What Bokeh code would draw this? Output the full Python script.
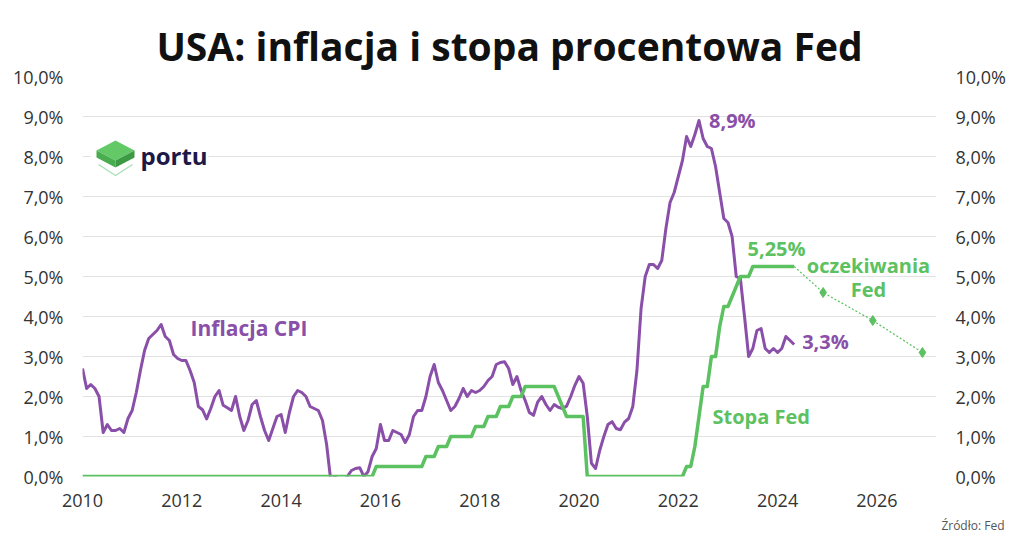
from bokeh.plotting import figure
from bokeh.models import Range1d, LinearAxis, FixedTicker, Label, Title
from bokeh.embed import file_html
from bokeh.resources import INLINE

# ---------------- data ----------------
start_year = 2010  # monthly series start: January 2010
cpi = [
    # 2010
    2.7, 2.2, 2.3, 2.2, 2.0, 1.1, 1.3, 1.15, 1.15, 1.2, 1.1, 1.45,
    # 2011
    1.65, 2.1, 2.65, 3.15, 3.45, 3.55, 3.65, 3.8, 3.5, 3.4, 3.05, 2.95,
    # 2012
    2.9, 2.9, 2.65, 2.35, 1.75, 1.67, 1.44, 1.7, 2.0, 2.15, 1.78, 1.72,
    # 2013
    1.65, 2.0, 1.5, 1.15, 1.4, 1.8, 1.9, 1.5, 1.15, 0.9, 1.2, 1.5,
    # 2014
    1.55, 1.1, 1.6, 2.0, 2.15, 2.1, 2.0, 1.75, 1.7, 1.65, 1.4, 0.8,
    # 2015
    -0.1, 0.0, -0.1, -0.2, 0.0, 0.15, 0.2, 0.22, 0.0, 0.12, 0.5, 0.7,
    # 2016
    1.3, 0.9, 0.9, 1.15, 1.1, 1.05, 0.85, 1.05, 1.5, 1.65, 1.65, 2.0,
    # 2017
    2.5, 2.8, 2.35, 2.15, 1.9, 1.65, 1.75, 1.95, 2.2, 2.0, 2.15, 2.1,
    # 2018
    2.15, 2.25, 2.4, 2.5, 2.8, 2.85, 2.87, 2.7, 2.3, 2.5, 2.15, 1.9,
    # 2019
    1.6, 1.53, 1.86, 2.0, 1.8, 1.65, 1.8, 1.73, 1.7, 1.76, 2.0, 2.28,
    # 2020
    2.5, 2.33, 1.5, 0.33, 0.2, 0.65, 1.0, 1.3, 1.37, 1.2, 1.17, 1.36,
    # 2021
    1.45, 1.75, 2.65, 4.2, 5.0, 5.3, 5.3, 5.2, 5.4, 6.2, 6.85, 7.1,
    # 2022
    7.5, 7.9, 8.5, 8.25, 8.55, 8.9, 8.45, 8.25, 8.2, 7.75, 7.1, 6.45,
    # 2023
    6.35, 6.0, 5.0, 4.95, 4.0, 3.0, 3.2, 3.65, 3.7, 3.2, 3.1, 3.2,
    # 2024
    3.1, 3.2, 3.5, 3.4, 3.3,
]
fed = (
    [0.0] * 71 + [0.25]                                   # 2010 - 2015
    + [0.25] * 11 + [0.5]                                 # 2016
    + [0.5, 0.5, 0.75, 0.75, 0.75] + [1.0] * 6 + [1.25]   # 2017
    + [1.25, 1.25, 1.5, 1.5, 1.5, 1.75, 1.75, 1.75, 2.0, 2.0, 2.0, 2.25]  # 2018
    + [2.25] * 7 + [2.0, 1.75, 1.5, 1.5, 1.5]             # 2019
    + [1.5, 1.5] + [0.0] * 10                             # 2020
    + [0.0] * 12                                          # 2021
    + [0.0, 0.0, 0.25, 0.25, 0.75, 1.5, 2.25, 2.25, 3.0, 3.0, 3.75, 4.25]  # 2022
    + [4.25, 4.5, 4.75, 5.0, 5.0, 5.0] + [5.25] * 6       # 2023
    + [5.25] * 5                                          # 2024
)
# Fed expectations (dot plot): (year, month) -> rate
exp_months = [(2024, 5), (2024, 12), (2025, 12), (2026, 12)]
exp_rates = [5.25, 4.6, 3.9, 3.1]

x_ticks = [2010, 2012, 2014, 2016, 2018, 2020, 2022, 2024, 2026]
x_tick_labels = ["2010", "2012", "2014", "2016", "2018", "2020", "2022", "2024", "2026"]
y_ticks = [0, 1, 2, 3, 4, 5, 6, 7, 8, 9, 10]
y_tick_labels = ["0,0%", "1,0%", "2,0%", "3,0%", "4,0%", "5,0%", "6,0%", "7,0%", "8,0%", "9,0%", "10,0%"]

title_text = "USA: inflacja i stopa procentowa Fed"
source_text = "Źródło: Fed"

# ---------------- styles ----------------
PURPLE = "#8a4fa8"
GREEN = "#5cc160"
FONT = "Open Sans"

months = [start_year + i / 12 for i in range(len(cpi))]
exp_x = [y + (m - 1) / 12 for (y, m) in exp_months]

W, H = 1012, 546
FL, FR, FT, FB = 82, 936, 76, 476   # frame edges (px)
X0, X1 = 2010, 2027.2
p = figure(width=W, height=H, x_range=Range1d(X0, X1), y_range=Range1d(0, 10),
           output_backend="svg", toolbar_location=None, tools="",
           min_border_left=FL, min_border_right=W - FR, min_border_top=FT, min_border_bottom=H - FB,
           background_fill_color="white", border_fill_color="white", outline_line_color=None)

p.title.text = title_text
p.title.align = "center"
p.title.text_font = FONT
p.title.text_font_size = "39px"
p.title.text_font_style = "bold"
p.title.text_color = "#111111"

def dx(px):
    return X0 + (px - FL) * (X1 - X0) / (FR - FL)
def dy(py):
    return (FB - py) * 10.0 / (FB - FT)

def style_axis(ax):
    ax.axis_line_color = None
    ax.major_tick_line_color = None
    ax.minor_tick_line_color = None
    ax.major_tick_out = 0
    ax.major_tick_in = 0
    ax.minor_tick_out = 0
    ax.minor_tick_in = 0
    ax.major_label_text_font = FONT
    ax.major_label_text_font_size = "18px"
    ax.major_label_text_color = "#333333"

p.xaxis.ticker = FixedTicker(ticks=x_ticks)
p.xaxis.major_label_overrides = {t: l for t, l in zip(x_ticks, x_tick_labels)}
p.xaxis.major_label_standoff = 17
style_axis(p.xaxis[0])

p.yaxis.ticker = FixedTicker(ticks=y_ticks)
p.yaxis.major_label_overrides = {t: l for t, l in zip(y_ticks, y_tick_labels)}
p.yaxis.major_label_standoff = 19
style_axis(p.yaxis[0])

right = LinearAxis(ticker=FixedTicker(ticks=y_ticks),
                   major_label_overrides={t: l for t, l in zip(y_ticks, y_tick_labels)},
                   major_label_standoff=19)
style_axis(right)
p.add_layout(right, "right")

p.xgrid.visible = False
p.ygrid.grid_line_color = "#e2e2e2"
p.ygrid.grid_line_width = 1

# logo backdrop (hides gridline behind the logo)
p.quad(left=dx(90), right=dx(208), top=dy(146), bottom=dy(168),
       fill_color="white", line_color=None)

# series
p.line(months, cpi, line_color=PURPLE, line_width=3, line_join="round")
p.line(months, fed, line_color=GREEN, line_width=3.5, line_join="round")
p.line(exp_x, exp_rates, line_color=GREEN, line_width=1.2, line_dash="2 2")
p.scatter(exp_x[1:], exp_rates[1:], marker="diamond", size=10, color=GREEN)

# logo
cube_x = [[96, 115, 134, 115], [96, 115, 115, 96], [115, 134, 134, 115]]
cube_y = [[150, 140, 150, 160], [150, 160, 167, 157], [160, 150, 157, 167]]
p.patches([[dx(v) for v in xs] for xs in cube_x], [[dy(v) for v in ys] for ys in cube_y],
          fill_color=["#63c967", "#49ad50", "#3b9a43"], line_color=None)
p.line([dx(v) for v in [98, 115, 132]], [dy(v) for v in [164, 175, 164]],
       line_color="#a6e0b6", line_width=1.3)
p.add_layout(Label(x=dx(140), y=dy(155), text="portu", text_font=FONT,
                   text_font_size="24px", text_font_style="bold", text_color="#1c1848",
                   text_baseline="middle", text_align="left"))

def lab(x, y, text, color, align="left", xo=0, yo=0, size="20px"):
    p.add_layout(Label(x=x, y=y, text=text, text_font=FONT, text_font_size=size,
                       text_font_style="bold", text_color=color, text_align=align,
                       text_baseline="middle", x_offset=xo, y_offset=yo))

peak_i = cpi.index(max(cpi))
lab(months[peak_i], cpi[peak_i], "8,9%", PURPLE, xo=10)
lab(months[-1], cpi[-1], "3,3%", PURPLE, xo=8, yo=3)
lab(dx(190), dy(327), "Inflacja CPI", PURPLE, size="21px")
lab(dx(776), dy(248), "5,25%", GREEN, align="center")
lab(dx(868), dy(265), "oczekiwania", GREEN, align="center")
lab(dx(868), dy(289), "Fed", GREEN, align="center")
lab(dx(712), dy(416), "Stopa Fed", GREEN)

src = Title(text=source_text, align="right", text_font=FONT, text_font_size="12px",
            text_font_style="normal", text_color="#555555", offset=-(1004 - FR))
p.add_layout(src, "below")

open("out.html", "w").write(file_html(p, INLINE))
